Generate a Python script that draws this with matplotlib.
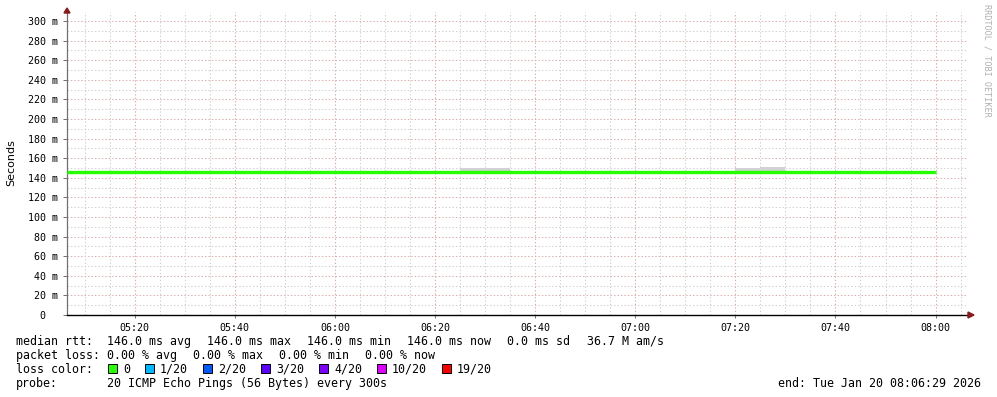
import matplotlib
matplotlib.use('Agg')
import matplotlib.pyplot as plt
from matplotlib.patches import Rectangle, Polygon

# ---- data ----
time_labels = ['05:20', '05:40', '06:00', '06:20', '06:40', '07:00', '07:20', '07:40', '08:00']
y_ticks = [0, 20, 40, 60, 80, 100, 120, 140, 160, 180, 200, 220, 240, 260, 280, 300]  # milliseconds

median_start = '05:05'
median_end = '08:00'
median_rtt = 146.0  # ms

smoke_start = ['06:25', '06:30', '07:20', '07:25']
smoke_lo = [145.0, 145.0, 145.0, 145.0]
smoke_hi = [150.3, 150.3, 149.8, 150.8]

loss_labels = ['0', '1/20', '2/20', '3/20', '4/20', '10/20', '19/20']
loss_colors = ['#26ff00', '#00b8ff', '#0059ff', '#5e00ff', '#7e00ff', '#dd00ff', '#ff0000']

rtt_stats = ['146.0 ms avg', '146.0 ms max', '146.0 ms min', '146.0 ms now', '0.0 ms sd', '36.7 M am/s']
loss_stats = ['0.00 % avg', '0.00 % max', '0.00 % min', '0.00 % now']
probe_text = '20 ICMP Echo Pings (56 Bytes) every 300s'
end_text = 'end: Tue Jan 20 08:06:29 2026'

W, H = 997, 397


def mins(t):
    # minutes after 05:00
    h, m = t.split(':')
    return (int(h) - 5) * 60 + int(m)


def fx(x):
    return x / W


def fy(y):
    return 1 - y / H


mono = 'DejaVu Sans Mono'
fig = plt.figure(figsize=(W / 100, H / 100), dpi=100)
fig.patch.set_facecolor('white')

# plot area: x 67..968, y 12..315 px
ax = fig.add_axes([fx(67), fy(315), (968 - 67) / W, (315 - 12) / H])
x0, x1 = 6.48, 186.48
ax.set_xlim(x0, x1)
ax.set_ylim(0, 309.2)

# grid
minor_c = '#d0d0d0'
major_c = '#e4aaaa'
dot = (0, (1.3, 2.0))
for v in range(10, 310, 20):
    ax.axhline(v, color=minor_c, lw=0.75, ls=dot, zorder=1)
for v in y_ticks[1:]:
    ax.axhline(v, color=major_c, lw=0.75, ls=dot, zorder=1)
for m in range(10, 187, 5):
    if (m % 20) != 0:
        ax.axvline(m, color=minor_c, lw=0.75, ls=dot, zorder=1)
for t in time_labels:
    ax.axvline(mins(t), color=major_c, lw=0.75, ls=dot, zorder=1)

# smoke
for s, lo, hi in zip(smoke_start, smoke_lo, smoke_hi):
    ax.add_patch(Rectangle((mins(s), lo), 5, hi - lo, facecolor='#d2d2d2',
                           edgecolor='none', zorder=2))

# median line
ax.plot([max(mins(median_start), x0), mins(median_end)], [median_rtt, median_rtt],
        color=loss_colors[0], lw=2.4, solid_capstyle='butt', zorder=3)

for sp in ['top', 'right']:
    ax.spines[sp].set_visible(False)
ax.spines['left'].set_color('#707070')
ax.spines['left'].set_linewidth(0.9)
ax.spines['bottom'].set_color('black')
ax.spines['bottom'].set_linewidth(1.0)

ax.set_yticks(y_ticks)
ax.set_yticklabels(['0  '] + ['%d m' % v for v in y_ticks[1:]])
ax.set_xticks([mins(t) for t in time_labels])
ax.set_xticklabels(time_labels)
ax.tick_params(axis='y', length=3, width=0.7, color='#707070', pad=3.5,
               labelsize=7.2, labelfontfamily=mono)
ax.tick_params(axis='x', length=2.5, width=0.7, color='#707070', pad=3.0,
               labelsize=7.2, labelfontfamily=mono)

# axis arrows
arrow_c = '#8b1a1a'
fig.patches.append(Polygon([(fx(64), fy(13)), (fx(70), fy(13)), (fx(67), fy(8))],
                           closed=True, transform=fig.transFigure, color=arrow_c))
fig.patches.append(Polygon([(fx(968), fy(312)), (fx(968), fy(318)), (fx(974), fy(315))],
                           closed=True, transform=fig.transFigure, color=arrow_c))

fig.text(fx(11), fy(163), 'Seconds', rotation=90, ha='center', va='center',
         fontsize=8, family='DejaVu Sans')
fig.text(fx(987), fy(4), 'RRDTOOL / TOBI OETIKER', rotation=270, ha='center', va='top',
         fontsize=6.1, family=mono, color='#b0b0b0')

# legend block
fs = 8.4


def put(x, y, s, ha='left'):
    # y is the visual middle of the text line; draw on a common baseline
    fig.text(fx(x), fy(y + 4), s, ha=ha, va='baseline', fontsize=fs, family=mono)


put(16, 341, 'median rtt:')
for x, s in zip([107, 207, 307, 407, 507, 587], rtt_stats):
    put(x, 341, s)
put(16, 355, 'packet loss:')
for x, s in zip([107, 193, 279, 365], loss_stats):
    put(x, 355, s)
put(16, 369, 'loss color:')
box_x = [108, 145, 203, 261, 319, 377, 442]
for bx, lab, col in zip(box_x, loss_labels, loss_colors):
    fig.patches.append(Rectangle((fx(bx), fy(373)), 9 / W, 9 / H, transform=fig.transFigure,
                                 facecolor=col, edgecolor='black', lw=0.7))
    put(bx + 15, 369, lab)
put(16, 383, 'probe:')
put(107, 383, probe_text)
put(981, 383, end_text, ha='right')

fig.savefig('out.png', dpi=100, facecolor='white')
